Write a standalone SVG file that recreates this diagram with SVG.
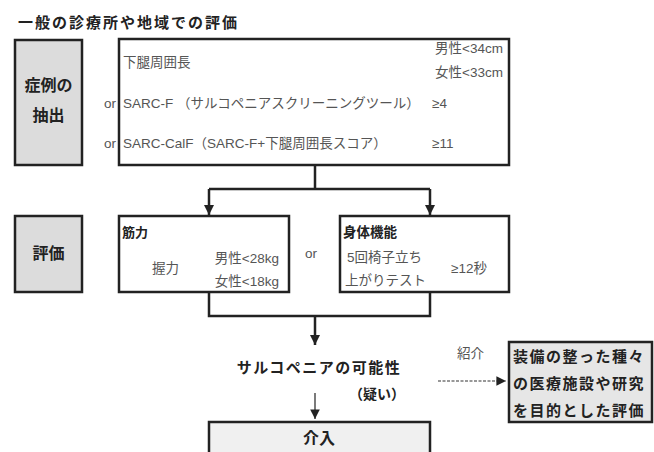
<svg xmlns="http://www.w3.org/2000/svg" width="654" height="452" viewBox="0 0 654 452">
<defs>
<style>
.t{font-family:"Liberation Sans","Noto Sans CJK JP",sans-serif;}
.j{font-family:"Noto Sans CJK JP","Liberation Sans",sans-serif;}
.b{font-weight:bold;fill:#222;}
.n{fill:#555;font-size:13.5px;}
.gray{fill:#dcdcdc;stroke:#222;stroke-width:2.5;}
.box{fill:#fff;stroke:#222;stroke-width:2.5;}
.ln{fill:none;stroke:#222;stroke-width:2.5;}
</style>
<marker id="ah" viewBox="0 0 10 10" refX="10" refY="5" markerWidth="4" markerHeight="4" orient="auto" markerUnits="strokeWidth"><path d="M0,0L10,5L0,10z" fill="#222"/></marker>
<marker id="ah2" viewBox="0 0 10 10" refX="10" refY="5" markerWidth="8" markerHeight="8" orient="auto" markerUnits="strokeWidth"><path d="M0,0L10,5L0,10z" fill="#222"/></marker>
</defs>
<text class="j b" x="18" y="28" font-size="15" letter-spacing="2">一般の診療所や地域での評価</text>

<g id="n-extract">
<rect class="gray" x="15" y="40" width="67" height="125"/>
<text class="j b" x="48.5" y="91" font-size="16" text-anchor="middle">症例の</text>
<text class="j b" x="48.5" y="121" font-size="16" text-anchor="middle">抽出</text>
</g>

<g id="n-criteria">
<rect class="box" x="119" y="39" width="390" height="126"/>
<text class="t n" x="123" y="67">下腿周囲長</text>
<text class="t n" x="503" y="53" text-anchor="end">男性&lt;34cm</text>
<text class="t n" x="503" y="77" text-anchor="end">女性&lt;33cm</text>
<text class="t n" x="104" y="108">or</text>
<text class="t n" x="123" y="108">SARC-F （サルコペニアスクリーニングツール）</text>
<text class="t n" x="432" y="108">≥4</text>
<text class="t n" x="104" y="148">or</text>
<text class="t n" x="123" y="148">SARC-CalF（SARC-F+下腿周囲長スコア）</text>
<text class="t n" x="432" y="148">≥11</text>
</g>

<g id="n-eval">
<rect class="gray" x="15" y="216" width="67" height="76"/>
<text class="j b" x="48.5" y="259" font-size="16" text-anchor="middle">評価</text>
</g>

<g id="n-strength">
<rect class="box" x="119" y="216" width="170" height="76"/>
<text class="j b" x="122" y="237" font-size="13">筋力</text>
<text class="t n" x="152" y="273">握力</text>
<text class="t n" x="279" y="263" text-anchor="end">男性&lt;28kg</text>
<text class="t n" x="279" y="286" text-anchor="end">女性&lt;18kg</text>
</g>

<text class="t n" x="305" y="258">or</text>

<g id="n-physical">
<rect class="box" x="340" y="216" width="169" height="76"/>
<text class="j b" x="343" y="237" font-size="13.5">身体機能</text>
<text class="t n" x="347" y="262">5回椅子立ち</text>
<text class="t n" x="345" y="285">上がりテスト</text>
<text class="t n" x="451" y="273">≥12秒</text>
</g>

<g id="n-possible">
<text class="j b" x="319" y="373" font-size="15" text-anchor="middle" letter-spacing="1.5">サルコペニアの可能性</text>
<text class="j b" x="377" y="399" font-size="14" text-anchor="middle">（疑い）</text>
</g>

<g id="n-refer">
<rect x="509" y="342" width="143" height="80" fill="#e6e6e6" stroke="#222" stroke-width="2.5"/>
<text class="j b" x="513" y="362" font-size="15" letter-spacing="1.5">装備の整った種々</text>
<text class="j b" x="513" y="389" font-size="15" letter-spacing="1.5">の医療施設や研究</text>
<text class="j b" x="513" y="416" font-size="15" letter-spacing="1.5">を目的とした評価</text>
</g>

<g id="n-intervene">
<rect x="209" y="422" width="221" height="40" fill="#f0f0f0" stroke="#222" stroke-width="2.5"/>
<text class="j b" x="319" y="444" font-size="16" text-anchor="middle">介入</text>
</g>

<g id="connectors">
<path class="ln" d="M315,165V189"/>
<path class="ln" d="M209,189H430"/>
<path class="ln" d="M209,189V215" marker-end="url(#ah)"/>
<path class="ln" d="M430,189V215" marker-end="url(#ah)"/>
<path class="ln" d="M209,292V316H430V292"/>
<path class="ln" d="M315,316V345" marker-end="url(#ah)"/>
<path d="M315,393V419" fill="none" stroke="#222" stroke-width="1.2" marker-end="url(#ah2)"/>
<path d="M438,381H506" fill="none" stroke="#333" stroke-width="1.2" stroke-dasharray="3,1.5" marker-end="url(#ah2)"/>
<text class="t n" x="457" y="358" font-size="13">紹介</text>
</g>
</svg>
